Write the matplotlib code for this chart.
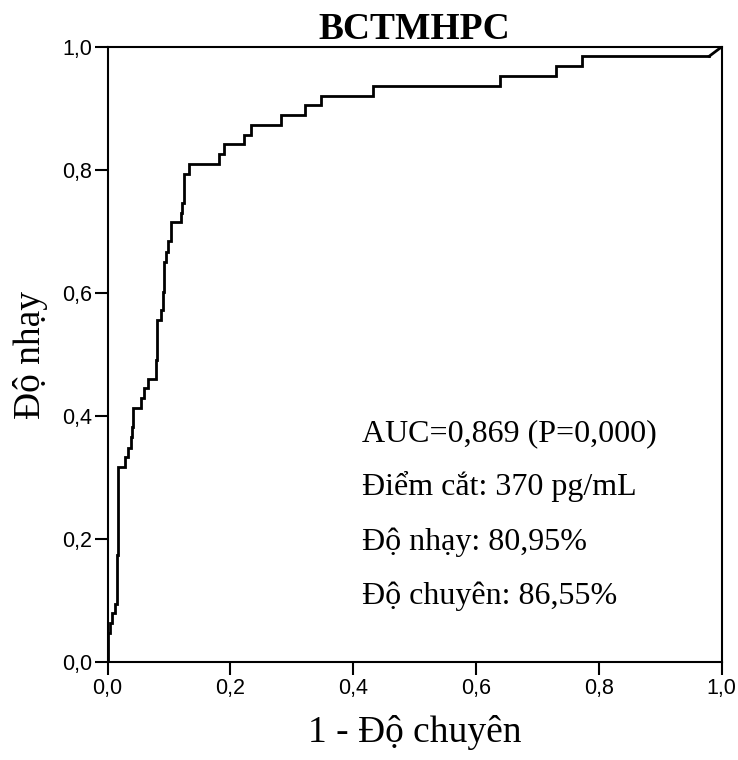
import numpy as np
import matplotlib.pyplot as plt

# ROC curve corners: at each fpr the curve rises to tpr, then runs right
fpr = [0.000, 0.000, 0.004, 0.008, 0.012, 0.015, 0.017, 0.028, 0.034, 0.038,
       0.040, 0.042, 0.055, 0.060, 0.066, 0.079, 0.081, 0.087, 0.090, 0.092,
       0.096, 0.099, 0.103, 0.120, 0.122, 0.124, 0.133, 0.181, 0.190, 0.222,
       0.233, 0.283, 0.321, 0.347, 0.433, 0.640, 0.731, 0.773, 0.980]
tpr = [0.000, 0.048, 0.064, 0.080, 0.095, 0.175, 0.318, 0.334, 0.348, 0.367,
       0.383, 0.413, 0.429, 0.446, 0.460, 0.491, 0.556, 0.573, 0.602, 0.651,
       0.667, 0.684, 0.716, 0.731, 0.746, 0.794, 0.810, 0.826, 0.842, 0.857,
       0.873, 0.889, 0.905, 0.920, 0.937, 0.953, 0.969, 0.985, 0.985]
# last tied segment goes straight to the corner
tail_fpr = [0.980, 1.000]
tail_tpr = [0.985, 1.000]

ticks = [0.0, 0.2, 0.4, 0.6, 0.8, 1.0]
tick_labels = ['0,0', '0,2', '0,4', '0,6', '0,8', '1,0']

title = 'BCTMHPC'
xlabel = '1 - Độ chuyên'
ylabel = 'Độ nhạy'
notes = ['AUC=0,869 (P=0,000)', 'Điểm cắt: 370 pg/mL',
         'Độ nhạy: 80,95%', 'Độ chuyên: 86,55%']

serif = ['Liberation Serif', 'DejaVu Serif']
sans = ['Liberation Sans', 'DejaVu Sans']

fig = plt.figure(figsize=(7.38, 7.6), dpi=100)
ax = fig.add_axes([0.1457, 0.1283, 0.832, 0.8099])

ax.plot(fpr, tpr, drawstyle='steps-post', color='black', lw=2.0,
        solid_joinstyle='miter')
ax.plot(tail_fpr, tail_tpr, color='black', lw=2.0)

ax.set_xlim(0, 1)
ax.set_ylim(0, 1)
ax.set_xticks(ticks)
ax.set_yticks(ticks)
ax.set_xticklabels(tick_labels, family=sans, fontsize=15.5)
ax.set_yticklabels(tick_labels, family=sans, fontsize=15.5)
ax.tick_params(direction='out', length=9.5, width=1.5, color='black', pad=1.5)
for s in ax.spines.values():
    s.set_linewidth(1.5)

ax.set_title(title, family=serif, fontsize=27, fontweight='bold', pad=6)
ax.set_xlabel(xlabel, family=serif, fontsize=27, labelpad=12)
ax.set_ylabel(ylabel, family=serif, fontsize=27, labelpad=10)

y0 = 0.360
for i, t in enumerate(notes):
    ax.text(0.414, y0 - i * 0.0883, t, family=serif, fontsize=23,
            ha='left', va='baseline')

fig.savefig('out.png', dpi=100)
